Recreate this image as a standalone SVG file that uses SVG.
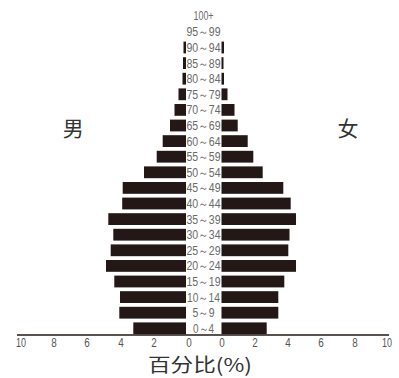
<svg xmlns="http://www.w3.org/2000/svg" width="399" height="378" viewBox="0 0 399 378">
<style>
.bar{fill:#231815}
.lab{font-family:"Liberation Sans Narrow","Liberation Sans",Arial,sans-serif;font-size:12px;fill:#6a6a6a;text-anchor:middle}
.tick{font-family:"Liberation Sans Narrow","Liberation Sans",Arial,sans-serif;font-size:12px;fill:#555;text-anchor:middle}
.sex{font-family:"Noto Sans CJK SC","Noto Sans CJK JP",sans-serif;font-size:21px;fill:#333;text-anchor:middle}
.title{font-family:"Noto Sans CJK SC","Liberation Sans",sans-serif;font-size:19px;fill:#333;text-anchor:middle}
</style>
<rect width="399" height="378" fill="#fff"/>
<g id="bars">
<rect class="bar" x="133.3" y="322.4" width="52.7" height="11.8"/><rect class="bar" x="221.5" y="322.4" width="45.2" height="11.8"/>
<rect class="bar" x="119.3" y="306.8" width="66.7" height="11.8"/><rect class="bar" x="221.5" y="306.8" width="56.8" height="11.8"/>
<rect class="bar" x="120" y="291.2" width="66" height="11.8"/><rect class="bar" x="221.5" y="291.2" width="56.8" height="11.8"/>
<rect class="bar" x="114.3" y="275.6" width="71.7" height="11.8"/><rect class="bar" x="221.5" y="275.6" width="62.8" height="11.8"/>
<rect class="bar" x="106" y="260" width="80" height="11.8"/><rect class="bar" x="221.5" y="260" width="74.5" height="11.8"/>
<rect class="bar" x="110.7" y="244.4" width="75.3" height="11.8"/><rect class="bar" x="221.5" y="244.4" width="66.8" height="11.8"/>
<rect class="bar" x="113.3" y="228.8" width="72.7" height="11.8"/><rect class="bar" x="221.5" y="228.8" width="68" height="11.8"/>
<rect class="bar" x="108.3" y="213.2" width="77.7" height="11.8"/><rect class="bar" x="221.5" y="213.2" width="74.5" height="11.8"/>
<rect class="bar" x="122.2" y="197.6" width="63.8" height="11.8"/><rect class="bar" x="221.5" y="197.6" width="69.2" height="11.8"/>
<rect class="bar" x="122.7" y="182" width="63.3" height="11.8"/><rect class="bar" x="221.5" y="182" width="61.8" height="11.8"/>
<rect class="bar" x="144" y="166.4" width="42" height="11.8"/><rect class="bar" x="221.5" y="166.4" width="41.2" height="11.8"/>
<rect class="bar" x="156.7" y="150.8" width="29.3" height="11.8"/><rect class="bar" x="221.5" y="150.8" width="31.8" height="11.8"/>
<rect class="bar" x="162.7" y="135.2" width="23.3" height="11.8"/><rect class="bar" x="221.5" y="135.2" width="26.2" height="11.8"/>
<rect class="bar" x="170" y="119.6" width="16" height="11.8"/><rect class="bar" x="221.5" y="119.6" width="16.2" height="11.8"/>
<rect class="bar" x="174.5" y="104" width="11.5" height="11.8"/><rect class="bar" x="221.5" y="104" width="13" height="11.8"/>
<rect class="bar" x="178.5" y="88.4" width="7.5" height="11.8"/><rect class="bar" x="221.5" y="88.4" width="6" height="11.8"/>
<rect class="bar" x="182.5" y="72.8" width="3.5" height="11.8"/><rect class="bar" x="221.5" y="72.8" width="2.5" height="11.8"/>
<rect class="bar" x="183" y="57.2" width="3" height="11.8"/><rect class="bar" x="221.5" y="57.2" width="2" height="11.8"/>
<rect class="bar" x="183.5" y="41.6" width="2.5" height="11.8"/><rect class="bar" x="221.5" y="41.6" width="2.5" height="11.8"/>
</g>
<g id="age-labels">
<text class="lab" x="203.5" y="332.7" textLength="21" lengthAdjust="spacingAndGlyphs">0～4</text>
<text class="lab" x="203.5" y="317.1" textLength="22" lengthAdjust="spacingAndGlyphs">5～9</text>
<text class="lab" x="203.5" y="301.5" textLength="33" lengthAdjust="spacingAndGlyphs">10～14</text>
<text class="lab" x="203.5" y="285.9" textLength="34" lengthAdjust="spacingAndGlyphs">15～19</text>
<text class="lab" x="203.5" y="270.3" textLength="34" lengthAdjust="spacingAndGlyphs">20～24</text>
<text class="lab" x="203.5" y="254.7" textLength="34" lengthAdjust="spacingAndGlyphs">25～29</text>
<text class="lab" x="203.5" y="239.1" textLength="34" lengthAdjust="spacingAndGlyphs">30～34</text>
<text class="lab" x="203.5" y="223.5" textLength="34" lengthAdjust="spacingAndGlyphs">35～39</text>
<text class="lab" x="203.5" y="207.9" textLength="34" lengthAdjust="spacingAndGlyphs">40～44</text>
<text class="lab" x="203.5" y="192.3" textLength="34" lengthAdjust="spacingAndGlyphs">45～49</text>
<text class="lab" x="203.5" y="176.7" textLength="34" lengthAdjust="spacingAndGlyphs">50～54</text>
<text class="lab" x="203.5" y="161.1" textLength="34" lengthAdjust="spacingAndGlyphs">55～59</text>
<text class="lab" x="203.5" y="145.5" textLength="34" lengthAdjust="spacingAndGlyphs">60～64</text>
<text class="lab" x="203.5" y="129.9" textLength="34" lengthAdjust="spacingAndGlyphs">65～69</text>
<text class="lab" x="203.5" y="114.3" textLength="34" lengthAdjust="spacingAndGlyphs">70～74</text>
<text class="lab" x="203.5" y="98.7" textLength="34" lengthAdjust="spacingAndGlyphs">75～79</text>
<text class="lab" x="203.5" y="83.1" textLength="34" lengthAdjust="spacingAndGlyphs">80～84</text>
<text class="lab" x="203.5" y="67.5" textLength="34" lengthAdjust="spacingAndGlyphs">85～89</text>
<text class="lab" x="203.5" y="51.9" textLength="34" lengthAdjust="spacingAndGlyphs">90～94</text>
<text class="lab" x="203.5" y="36.3" textLength="34" lengthAdjust="spacingAndGlyphs">95～99</text>
<text class="lab" x="203.5" y="20.2" textLength="20" lengthAdjust="spacingAndGlyphs">100+</text>
</g>
<g id="axis">
<line x1="17" y1="335" x2="389" y2="335" stroke="#231815" stroke-width="1.5"/>
<text class="tick" x="21" y="346.5" textLength="10" lengthAdjust="spacingAndGlyphs">10</text>
<text class="tick" x="54" y="346.5" textLength="5.5" lengthAdjust="spacingAndGlyphs">8</text>
<text class="tick" x="87" y="346.5" textLength="5.5" lengthAdjust="spacingAndGlyphs">6</text>
<text class="tick" x="121" y="346.5" textLength="5.5" lengthAdjust="spacingAndGlyphs">4</text>
<text class="tick" x="154" y="346.5" textLength="5.5" lengthAdjust="spacingAndGlyphs">2</text>
<text class="tick" x="189" y="346.5" textLength="5.5" lengthAdjust="spacingAndGlyphs">0</text>
<text class="tick" x="222" y="346.5" textLength="5.5" lengthAdjust="spacingAndGlyphs">0</text>
<text class="tick" x="255" y="346.5" textLength="5.5" lengthAdjust="spacingAndGlyphs">2</text>
<text class="tick" x="288" y="346.5" textLength="5.5" lengthAdjust="spacingAndGlyphs">4</text>
<text class="tick" x="321" y="346.5" textLength="5.5" lengthAdjust="spacingAndGlyphs">6</text>
<text class="tick" x="355" y="346.5" textLength="5.5" lengthAdjust="spacingAndGlyphs">8</text>
<text class="tick" x="387" y="346.5" textLength="10" lengthAdjust="spacingAndGlyphs">10</text>
<text class="title" x="200" y="372" textLength="104" lengthAdjust="spacingAndGlyphs">百分比(%)</text>
</g>
<g id="sex-labels">
<text class="sex" x="73.3" y="136">男</text>
<text class="sex" x="348" y="136">女</text>
</g>
</svg>
